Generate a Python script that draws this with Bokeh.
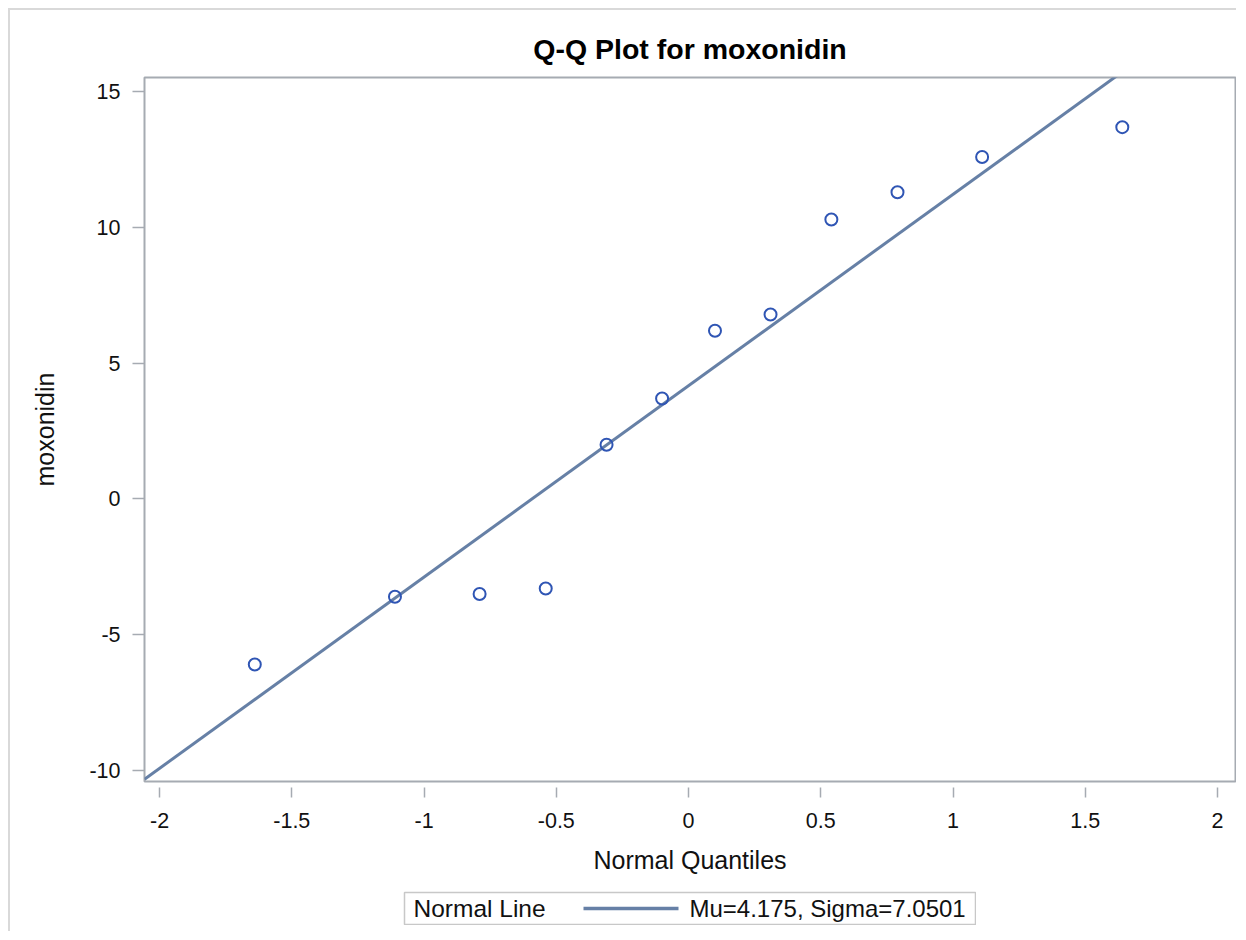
from bokeh.plotting import figure
from bokeh.models import Range1d, FixedTicker, ColumnDataSource, Spacer
from bokeh.layouts import column, row
from bokeh.core.properties import value
from bokeh.embed import file_html
from bokeh.resources import INLINE

# ---- data ----
quantiles = [-1.64, -1.11, -0.79, -0.54, -0.31, -0.10, 0.10, 0.31, 0.54, 0.79, 1.11, 1.64]
moxonidin = [-6.1, -3.6, -3.5, -3.3, 2.0, 3.7, 6.2, 6.8, 10.3, 11.3, 12.6, 13.7]
mu = 4.175
sigma = 7.0501
x_ticks = [-2, -1.5, -1, -0.5, 0, 0.5, 1, 1.5, 2]
x_tick_labels = ["-2", "-1.5", "-1", "-0.5", "0", "0.5", "1", "1.5", "2"]
y_ticks = [-10, -5, 0, 5, 10, 15]
y_tick_labels = ["-10", "-5", "0", "5", "10", "15"]
title_text = "Q-Q Plot for moxonidin"
x_label = "Normal Quantiles"
y_label = "moxonidin"
legend_title = "Normal Line"
legend_label = f"Mu={mu}, Sigma={sigma}"

FONT = "Liberation Sans"
LINE_COLOR = "#6680a6"
MARKER_COLOR = "#2f55b4"
FRAME_COLOR = "#a6abb2"

x_lo, x_hi = -2.057, 2.068
y_lo, y_hi = -10.41, 15.53

p = figure(width=1226, height=876, output_backend="svg", toolbar_location=None,
           x_range=Range1d(x_lo, x_hi), y_range=Range1d(y_lo, y_hi),
           min_border_left=134, min_border_right=1, min_border_top=67, min_border_bottom=105,
           title=title_text)
p.title.text_font = FONT
p.title.text_font_size = "28.5px"
p.title.text_font_style = "bold"
p.title.align = "center"
p.title.text_color = "#000000"
p.title.standoff = 25

p.grid.visible = False
p.outline_line_color = FRAME_COLOR
p.outline_line_width = 2
p.background_fill_color = "white"
p.border_fill_color = "white"

# normal reference line from mu and sigma across the x range
line_x = [x_lo, x_hi]
line_y = [mu + sigma * v for v in line_x]
p.line(line_x, line_y, line_color=LINE_COLOR, line_width=3)

src = ColumnDataSource(dict(x=quantiles, y=moxonidin))
p.scatter("x", "y", source=src, marker="circle", size=12, fill_color=None,
          line_color=MARKER_COLOR, line_width=2)

xa = p.xaxis[0]
xa.ticker = FixedTicker(ticks=x_ticks)
xa.major_label_overrides = {t: l for t, l in zip(x_ticks, x_tick_labels)}
xa.axis_label = x_label
ya = p.yaxis[0]
ya.ticker = FixedTicker(ticks=y_ticks)
ya.major_label_overrides = {t: l for t, l in zip(y_ticks, y_tick_labels)}
ya.axis_label = y_label

for ax in (xa, ya):
    ax.axis_line_color = None
    ax.minor_tick_line_color = None
    ax.major_tick_line_color = FRAME_COLOR
    ax.major_tick_line_width = 1.5
    ax.major_label_text_font = FONT
    ax.major_label_text_font_size = "21.5px"
    ax.major_label_text_color = "#111111"
    ax.axis_label_text_font = FONT
    ax.axis_label_text_font_size = "25px"
    ax.axis_label_text_font_style = "normal"
    ax.axis_label_text_color = "#111111"

xa.major_tick_in = -6
xa.major_tick_out = 16
xa.major_label_standoff = 15
xa.axis_label_standoff = 15
ya.major_tick_in = 0
ya.major_tick_out = 12
ya.major_label_standoff = 12
ya.axis_label_standoff = 27

# ---- legend box (separate small figure) ----
lg = figure(width=573, height=34, output_backend="svg", toolbar_location=None,
            x_range=Range1d(0, 571), y_range=Range1d(0, 32),
            min_border_left=1, min_border_right=1, min_border_top=1, min_border_bottom=1)
lg.axis.visible = False
lg.grid.visible = False
lg.outline_line_color = "#c8c8c8"
lg.outline_line_width = 1.5
lg.text(x=[9], y=[16], text=[legend_title], text_font=value(FONT), text_font_size="24.5px",
        text_baseline="middle", text_align="left", text_color="#111111")
lg.line(x=[179, 274], y=[16, 16], line_color=LINE_COLOR, line_width=3.5)
lg.text(x=[285], y=[16], text=[legend_label], text_font=value(FONT), text_font_size="24px",
        text_baseline="middle", text_align="left", text_color="#111111")

inner = column(p, Spacer(height=5), row(Spacer(width=393), lg), Spacer(height=6))
inner.styles = {"border-top": "2px solid #d9d9d9", "border-left": "2px solid #d9d9d9"}
page = column(Spacer(height=8), row(Spacer(width=8), inner))

open("out.html", "w").write(file_html(page, INLINE))
